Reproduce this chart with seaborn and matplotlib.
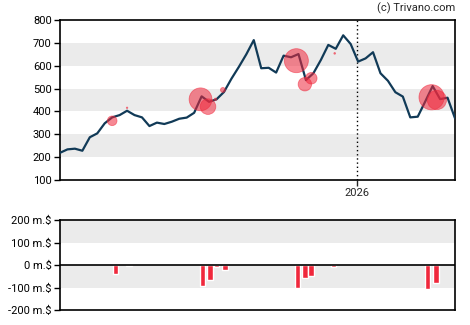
import numpy as np
import pandas as pd
import matplotlib
matplotlib.use("Agg")
import matplotlib.pyplot as plt
import seaborn as sns

# ---- data ----
start_date = "2025-03-28"
prices = [219, 234, 237, 228, 287, 304, 348, 374, 384, 403,
          384, 374, 336, 351, 345, 355, 368, 373, 394, 466,
          442, 453, 485, 543, 595, 650, 712, 589, 591, 570,
          644, 637, 651, 537, 567, 625, 691, 674, 733, 695,
          618, 632, 659, 567, 534, 484, 465, 374, 377, 443,
          511, 454, 460, 370]

trade_dates = ["2025-05-16", "2025-05-30", "2025-08-07", "2025-08-14",
               "2025-08-21", "2025-08-28", "2025-11-05", "2025-11-13",
               "2025-11-19", "2025-12-11", "2026-03-12", "2026-03-17"]
trade_prices = [359, 416, 453, 421, 453, 494, 622, 519, 545, 654, 462, 450]
trade_volumes = [40, 6, 95, 65, 10, 20, 100, 56, 48, 7, 105, 80]  # m.$

flow_dates = ["2025-05-19", "2025-06-01", "2025-08-09", "2025-08-16",
              "2025-08-22", "2025-08-30", "2025-11-06", "2025-11-13",
              "2025-11-19", "2025-12-10", "2026-03-08", "2026-03-16"]
flow_values = [-40, -5, -95, -65, -10, -20, -100, -56, -48, -7, -105, -80]

top_ticks = [100, 200, 300, 400, 500, 600, 700, 800]
bottom_ticks = [-200, -100, 0, 100, 200]
bottom_labels = ["-200 m.$", "-100 m.$", "0 m.$", "100 m.$", "200 m.$"]
year_label = "2026"
credit = "(c) Trivano.com"

# ---- frames ----
dates = pd.date_range(start_date, periods=len(prices), freq="7D")
df = pd.DataFrame({"date": dates, "price": prices})
tr = pd.DataFrame({"date": pd.to_datetime(trade_dates), "price": trade_prices,
                   "vol": trade_volumes})
fl = pd.DataFrame({"date": pd.to_datetime(flow_dates), "val": flow_values})

sns.set_style("white")
plt.rcParams['font.family'] = ['Roboto', 'DejaVu Sans']

LINE = "#113a57"
RED = "#f0283c"
BAND = "#ebebeb"

fig = plt.figure(figsize=(4.7, 3.25), dpi=100)
ax1 = fig.add_axes([60/470, 1-180/325, 395/470, 160/325])
ax2 = fig.add_axes([60/470, 1-310/325, 395/470, 90/325])

xmin, xmax = dates[0], dates[-1]

# top panel
for lo in (200, 400, 600):
    ax1.axhspan(lo, lo + 100, color=BAND, lw=0, zorder=0)
ax1.axvline(pd.Timestamp("2026-01-01"), color="black", ls=(0, (1, 2)), lw=1, zorder=1)
sns.lineplot(data=df, x="date", y="price", ax=ax1, color=LINE, lw=1.6, zorder=3)
px_to_pt = 0.72
s = [(2 * 0.12 * v * px_to_pt) ** 2 for v in trade_volumes]
sns.scatterplot(data=tr, x="date", y="price", ax=ax1, s=s, color=RED,
                alpha=0.55, edgecolor=RED, linewidth=0.6, zorder=4, legend=False)
ax1.set_xlim(xmin, xmax)
ax1.set_ylim(100, 800)
ax1.set_yticks(top_ticks)
ax1.set_xticks([pd.Timestamp("2026-01-01")])
ax1.set_xticklabels([year_label])
ax1.set_xlabel("")
ax1.set_ylabel("")

# bottom panel
for lo in (100, -100):
    ax2.axhspan(lo, lo + 100, color=BAND, lw=0, zorder=0)
ax2.bar(fl["date"], fl["val"], width=5.2, color=RED, zorder=3)
ax2.axhline(0, color="black", lw=1.2, zorder=4)
ax2.set_xlim(xmin, xmax)
ax2.set_ylim(-200, 200)
ax2.set_yticks(bottom_ticks)
ax2.set_yticklabels(bottom_labels)
ax2.set_xticks([])

for ax in (ax1, ax2):
    for sp in ax.spines.values():
        sp.set_visible(True)
        sp.set_color("black")
        sp.set_linewidth(1.2)
    ax.tick_params(axis="y", which="both", left=True, length=4, width=1,
                   labelsize=8, pad=2, colors="black")
    ax.tick_params(axis="x", bottom=True, length=4, width=1, labelsize=8, pad=2)
    ax.set_facecolor("white")

fig.text(455/470, 1-8/325, credit, ha="right", va="center", fontsize=8)

fig.savefig("out.png", dpi=100)
